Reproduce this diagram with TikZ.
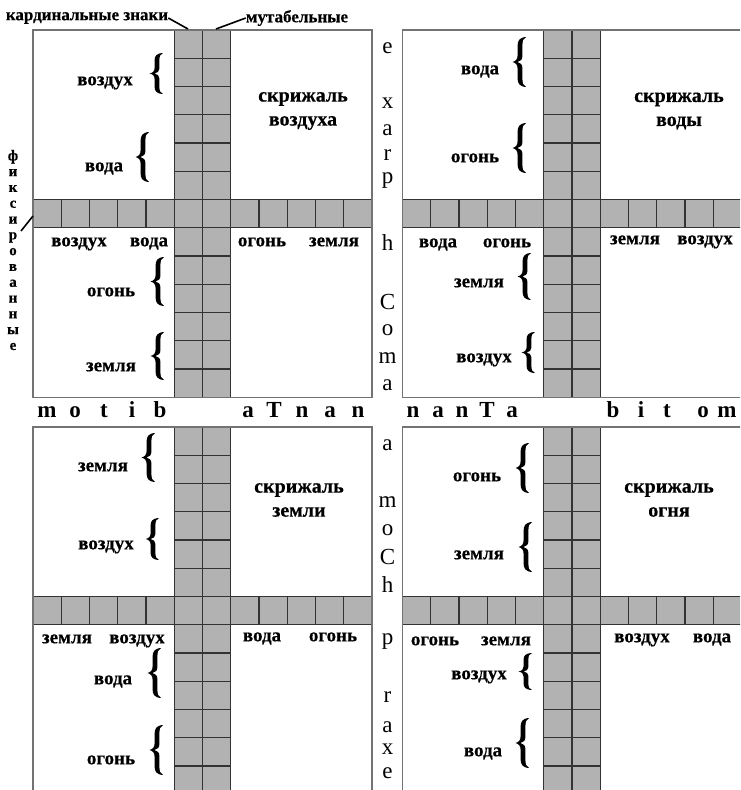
\documentclass[tikz,border=0pt]{standalone}
\usepackage{fontspec}
\setmainfont{Liberation Serif}
\newfontfamily\heavy{Liberation Serif Bold}[FakeBold=0.4]
\def\cu{28.25}
\begin{document}
\begin{tikzpicture}[x=1pt,y=-1pt,
  bandfill/.style={fill=black!30},
  gridline/.style={draw=black!80,line width=1.1pt},
  boxline/.style={draw=black!55,line width=1.5pt},
  lbl/.style={font=\fontsize{19}{19}\selectfont\heavy,inner sep=0pt,anchor=base,yshift=-4.3pt},
  big/.style={font=\fontsize{20}{24}\selectfont\heavy,inner sep=0pt,align=center},
  ltr/.style={font=\fontsize{23}{23}\selectfont,inner sep=0pt,anchor=base,yshift=-5.2pt},
  ltrb/.style={ltr,font=\fontsize{23}{23}\selectfont\bfseries},
  small/.style={font=\fontsize{17}{17}\selectfont\heavy,inner sep=0pt},
  vsmall/.style={font=\fontsize{15}{15.8}\selectfont\heavy,inner sep=0pt,align=center},
  leader/.style={draw=black,line width=1.6pt},
  quad/.pic={
    \fill[bandfill] (5*\cu,0) rectangle (7*\cu,13*\cu);
    \fill[bandfill] (0,6*\cu) rectangle (12*\cu,7*\cu);
    \foreach \k in {1,...,12} \draw[gridline] (5*\cu,\k*\cu) -- (7*\cu,\k*\cu);
    \foreach \k in {1,...,11} \draw[gridline] (\k*\cu,6*\cu) -- (\k*\cu,7*\cu);
    \draw[gridline] (5*\cu,0) -- (5*\cu,13*\cu) (6*\cu,0) -- (6*\cu,13*\cu) (7*\cu,0) -- (7*\cu,13*\cu);
    \draw[gridline] (0,6*\cu) -- (12*\cu,6*\cu) (0,7*\cu) -- (12*\cu,7*\cu);
    \draw[boxline] (0,0) rectangle (12*\cu,13*\cu);
  },
  cbr/.pic={
    \fill[black] (6,-25)
      .. controls (-1,-24.5) and (-2.4,-21) .. (-2.4,-16)
      -- (-2.4,-7)
      .. controls (-2.4,-3) and (-4,-0.8) .. (-7.5,0)
      .. controls (-4,0.8) and (-2.4,3) .. (-2.4,7)
      -- (-2.4,16)
      .. controls (-2.4,21) and (-1,24.5) .. (6,25)
      .. controls (3,23.8) and (2.4,21) .. (2.4,16)
      -- (2.4,6)
      .. controls (2.4,2.5) and (0.5,0.7) .. (-2.5,0)
      .. controls (0.5,-0.7) and (2.4,-2.5) .. (2.4,-6)
      -- (2.4,-16)
      .. controls (2.4,-21) and (3,-23.8) .. (6,-25) -- cycle;
  }
]
\useasboundingbox (0,0) rectangle (740,790);
\clip (0,0) rectangle (740,790);
\fill[white] (0,0) rectangle (740,790);

\pic at (33,30) {quad};
\pic at (402.5,30) {quad};
\pic at (33,427) {quad};
\pic at (402.5,427) {quad};

% ---- top-left quadrant
\node[lbl] (a1) at (105,81) {воздух};
\node[lbl] (a2) at (104,167) {вода};
\node[lbl] (a3) at (111,292) {огонь};
\node[lbl] (a4) at (111,367) {земля};
\node[big] (a5) at (303,111) {скрижаль\\воздуха};
\node[lbl] (a6) at (79,242) {воздух};
\node[lbl] (a7) at (149,242) {вода};
\node[lbl] (a8) at (262,242) {огонь};
\node[lbl] (a9) at (334,242) {земля};
\pic[yscale=0.82] at (157,73.5) {cbr};
\pic at (143,157) {cbr};
\pic[yscale=0.98] at (158,281.5) {cbr};
\pic[yscale=0.96] at (158,356) {cbr};

% ---- top-right quadrant
\node[lbl] (b1) at (480,70) {вода};
\node[lbl] (b2) at (475,158) {огонь};
\node[lbl] (b3) at (479,283) {земля};
\node[lbl] (b4) at (484,358) {воздух};
\node[big] (b5) at (679,111) {скрижаль\\воды};
\node[lbl] (b6) at (438,243) {вода};
\node[lbl] (b7) at (507,243) {огонь};
\node[lbl] (b8) at (635,240) {земля};
\node[lbl] (b9) at (705,240) {воздух};
\pic at (520,62) {cbr};
\pic at (520,148) {cbr};
\pic[yscale=0.94] at (525,276.5) {cbr};
\pic[yscale=0.82] at (529,352.5) {cbr};

% ---- bottom-left quadrant
\node[lbl] (c1) at (103,467) {земля};
\node[lbl] (c2) at (106,545) {воздух};
\node[big] (c5) at (299,500) {скрижаль\\земли};
\node[lbl] (c6) at (67,639) {земля};
\node[lbl] (c7) at (137,639) {воздух};
\node[lbl] (c8) at (262,637) {вода};
\node[lbl] (c9) at (333,637) {огонь};
\node[lbl] (c3) at (113,680) {вода};
\node[lbl] (c4) at (111,760) {огонь};
\pic[yscale=0.98] at (149,457.5) {cbr};
\pic[yscale=0.84] at (153,539) {cbr};
\pic at (155,673) {cbr};
\pic at (157,750) {cbr};

% ---- bottom-right quadrant
\node[lbl] (d1) at (477,477) {огонь};
\node[lbl] (d2) at (479,555) {земля};
\node[big] (d5) at (669,500) {скрижаль\\огня};
\node[lbl] (d6) at (435,641) {огонь};
\node[lbl] (d7) at (506,641) {земля};
\node[lbl] (d8) at (642,638) {воздух};
\node[lbl] (d9) at (712,638) {вода};
\node[lbl] (d3) at (479,675) {воздух};
\node[lbl] (d4) at (483,752) {вода};
\pic at (523,468) {cbr};
\pic at (526,547) {cbr};
\pic[yscale=0.74] at (526,671.5) {cbr};
\pic at (523,743) {cbr};

% ---- vertical gap letters
\foreach \ch/\yy [count=\i] in {e/48,x/103,a/130,r/155,p/178,h/245,C/304,o/330,m/358,a/385,
  a/445,m/502,o/530,C/559,h/587,p/639,r/697,a/727,x/749,e/773}
  \node[ltr] (v\i) at (387.5,\yy) {\ch};

% ---- horizontal gap letters
\foreach \ch/\xx [count=\i] in {m/47,o/75,t/104,i/132,b/160,a/248,T/274,n/302,a/330,n/358,
  n/413,a/438,n/462,T/487,a/512,b/613,i/641,t/667,o/703,m/727}
  \node[ltrb] (h\i) at (\xx,412) {\ch};

% ---- annotations
\node[small] (card) at (87,18) {кардинальные знаки};
\node[small] (mut) at (297,18) {мутабельные};
\node[vsmall] (fix) at (13,250) {ф\\и\\к\\с\\и\\р\\о\\в\\а\\н\\н\\ы\\е};
\coordinate (cardtip) at (188,29);
\coordinate (muttip) at (216,29);
\coordinate (fixtail) at (21,231);
\coordinate (fixtip) at (33,216);
\draw[leader] (card.east) -- (cardtip);
\draw[leader] (mut.west) -- (muttip);
\draw[leader] (fixtail) -- (fixtip);
\end{tikzpicture}
\end{document}
